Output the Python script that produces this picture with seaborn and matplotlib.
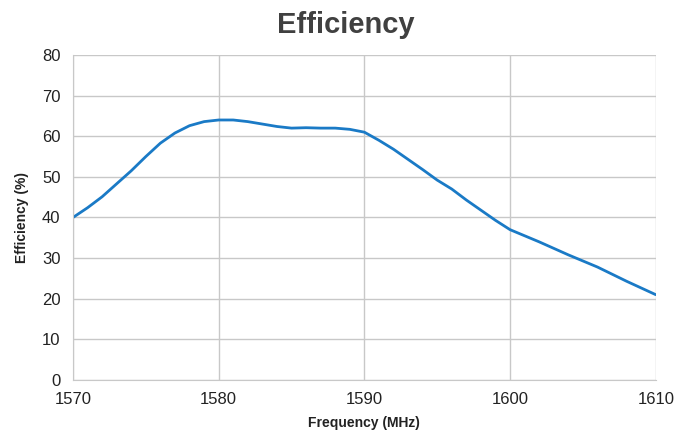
import matplotlib
matplotlib.use("Agg")
import matplotlib.pyplot as plt
import seaborn as sns
import pandas as pd

freq = [1570, 1571, 1572, 1573, 1574, 1575, 1576, 1577, 1578, 1579, 1580, 1581,
        1582, 1583, 1584, 1585, 1586, 1587, 1588, 1589, 1590, 1591, 1592, 1593,
        1594, 1595, 1596, 1597, 1598, 1599, 1600, 1602, 1604, 1606, 1608, 1610]
eff = [40.0, 42.4, 45.1, 48.3, 51.5, 55.0, 58.3, 60.8, 62.6, 63.6, 64.0, 64.0,
       63.6, 63.0, 62.4, 62.0, 62.1, 62.0, 62.0, 61.7, 61.0, 59.0, 56.8, 54.3,
       51.8, 49.2, 47.0, 44.3, 41.8, 39.3, 37.0, 34.0, 30.8, 27.8, 24.3, 21.0]
xticks = [1570, 1580, 1590, 1600, 1610]
yticks = [0, 10, 20, 30, 40, 50, 60, 70, 80]

df = pd.DataFrame({"Frequency (MHz)": freq, "Efficiency (%)": eff})

sns.set_style("white")
plt.rcParams['font.family'] = ['Liberation Sans', 'DejaVu Sans']

fig = plt.figure(figsize=(6.91, 4.32), dpi=100)
ax = fig.add_axes([0.1056, 0.1204, 0.8434, 0.7523])
sns.lineplot(data=df, x="Frequency (MHz)", y="Efficiency (%)", ax=ax,
             color="#1a7ac6", linewidth=2.0)

ax.set_xlim(1570, 1610)
ax.set_ylim(0, 80)
ax.set_xticks(xticks)
ax.set_yticks(yticks)
ax.grid(True, color="#c8c8c8", linewidth=1.0)
ax.set_axisbelow(True)
for s in ["top", "right"]:
    ax.spines[s].set_visible(False)
ax.spines["left"].set_color("#c8c8c8")
ax.spines["bottom"].set_color("#c8c8c8")
ax.tick_params(axis="both", labelsize=12, colors="#222222", length=0)
ax.tick_params(axis="x", pad=9)
ax.tick_params(axis="y", length=4, color="#c8c8c8", direction="out", pad=5)
ax.set_xlabel("Frequency (MHz)", fontsize=10, fontweight="bold", color="#222222", labelpad=6)
ax.set_ylabel("Efficiency (%)", fontsize=10, fontweight="bold", color="#222222", labelpad=9)
fig.text(0.5, 1 - 33 / 432, "Efficiency", ha="center", va="baseline",
         fontsize=21, fontweight="bold", color="#404040")

fig.savefig("out.png", dpi=100)
